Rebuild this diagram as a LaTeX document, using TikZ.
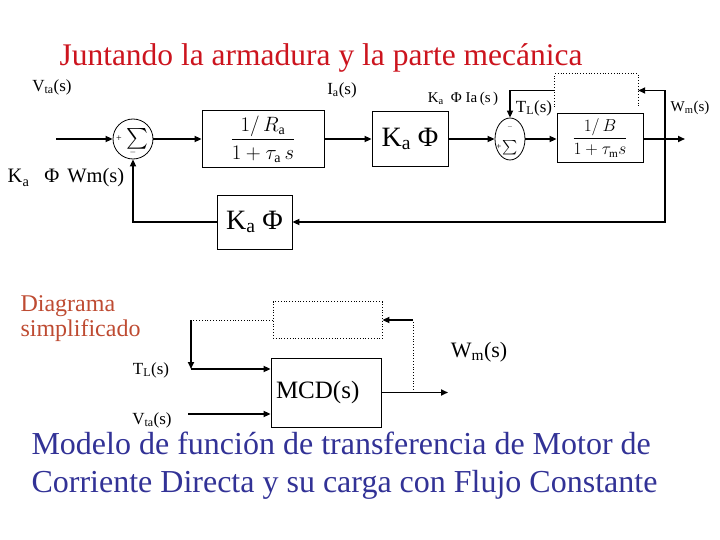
\documentclass[tikz,border=0pt]{standalone}
\usepackage{amsmath}
\usepackage{fontspec}
\setmainfont{Liberation Serif}
\usetikzlibrary{arrows.meta,positioning,shapes.geometric}
\definecolor{titlered}{RGB}{204,20,30}
\definecolor{notebrown}{RGB}{190,75,50}
\definecolor{capblue}{RGB}{50,50,150}

\begin{document}
\begin{tikzpicture}[
  x=1pt, y=-1pt, >={Triangle[length=7pt,width=6pt]},
  sig/.style={->, line width=1.6pt},
  blk/.style={draw, line width=0.8pt, inner sep=0pt},
  sumnode/.style={draw, ellipse, line width=0.8pt, inner sep=0pt},
  dotline/.style={dotted, line width=0.8pt},
  lbl/.style={font=\fontsize{17}{19}\selectfont},
]
\useasboundingbox (0,0) rectangle (720,540);

\node[font=\fontsize{31.5}{34}\selectfont, text=titlered] (title) at (321,58)
  {Juntando la armadura y la parte mecánica};

% armadura
\node[sumnode, minimum width=40pt, minimum height=40pt] (sumA) at (133,139) {};
\node[font=\fontsize{20}{20}\selectfont] (sigA) at (137,139) {$\sum$};
\node[font=\fontsize{10}{10}\selectfont] (plA) at (119,139) {+};
\node[font=\fontsize{8}{8}\selectfont] (miA) at (133,153) {$-$};
\node[blk, minimum width=122pt, minimum height=57pt,
      font=\fontsize{20}{22}\selectfont] (blkR) at (263,139)
  {$\dfrac{1/\,R_{\mathrm a}}{1+\tau_{\mathrm a}\,s}$};
\node[blk, minimum width=76pt, minimum height=55pt,
      font=\fontsize{28}{30}\selectfont] (blkK) at (410,139)
  {K\textsubscript{a}\hspace{7pt}Φ};
\node[blk, minimum width=75pt, minimum height=54pt,
      font=\fontsize{28}{30}\selectfont] (blkF) at (254.5,222)
  {K\textsubscript{a}\hspace{7pt}Φ};

% parte mecanica
\node[sumnode, minimum width=30pt, minimum height=42pt] (sumB) at (510,139) {};
\node[font=\fontsize{15}{15}\selectfont, inner sep=0pt] (sigB) at (510,148) {$\sum$};
\node[font=\fontsize{9}{9}\selectfont] (plB) at (499,147) {+};
\node[font=\fontsize{6}{6}\selectfont, inner sep=0pt] (miB) at (510,127) {$-$};
\node[blk, minimum width=86pt, minimum height=49pt,
      font=\fontsize{16}{18}\selectfont] (blkB) at (600,138)
  {$\dfrac{1/\,B}{1+\tau_{\mathrm m}s}$};
\node[minimum width=83pt, minimum height=33pt, inner sep=0pt] (tld) at (596.5,90.5) {};
\draw[dotline] (tld.south west) -- (tld.north west) -- (tld.north east)
  -- (tld.south east);

\coordinate (vin) at (56,139);
\coordinate (wout) at (685,139);
\coordinate (tapA) at (665,139);
\draw[sig] (vin) -- (sumA.west);
\draw[sig] (sumA.east) -- (blkR.west);
\draw[sig] (blkR.east) -- (blkK.west);
\draw[sig] (blkK.east) -- (sumB.west);
\draw[sig] (sumB.east) -- (sumB.east -| blkB.west);
\draw[sig] (sumB.east -| blkB.east) -- (wout);
\draw[sig] (tapA) |- (tld.east);
\draw[sig] (tapA) |- (blkF.east);
\draw[sig] (tld.west) -| (sumB.north);
\draw[sig] (blkF.west) -| (sumA.south);

\node[lbl] (vtaA) at (52,87) {V\textsubscript{ta}(s)};
\node[lbl] (iaA) at (342,90) {I\textsubscript{a}(s)};
\node[font=\fontsize{20.5}{22}\selectfont] (kwA) at (66,178)
  {K\textsubscript{a}\hspace{15pt}Φ\hspace{8pt}Wm(s)};
\node[font=\fontsize{15}{17}\selectfont] (kiA) at (463,99)
  {K\textsubscript{a}\hspace{7pt}Φ\ Ia\,(s\,)};
\node[lbl] (tlA) at (534,108) {T\textsubscript{L}(s)};
\node[font=\fontsize{15}{17}\selectfont] (wmA) at (690,108) {W\textsubscript{m}(s)};

% simplificado
\node[font=\fontsize{24}{25}\selectfont, text=notebrown, align=left, anchor=west]
  (simp) at (17,319) {Diagrama\\simplificado};
\node[draw, dotline, minimum width=109pt, minimum height=37pt] (tlb) at (327.5,320) {};
\node[blk, minimum width=110pt, minimum height=69pt, text width=100pt,
      align=left, inner xsep=5pt, font=\fontsize{25}{27}\selectfont] (mcd) at (326,392.5)
  {MCD(s)};

\coordinate (tlc) at (191,320);
\coordinate (tle) at (191,369);
\coordinate (vinB) at (188,414);
\coordinate (woutB) at (448,392.5);
\coordinate (tapB) at (413,392.5);
\coordinate (fbB) at (413,320);
\draw[dotline] (tlb.west) -- (tlc);
\draw[sig] (tlc) -- (tle);
\draw[sig] (tle) -- (tle -| mcd.west);
\draw[sig] (vinB) -- (vinB -| mcd.west);
\draw[sig] (mcd.east) -- (woutB);
\draw[dotline] (tapB) -- (fbB);
\draw[sig] (fbB) -- (tlb.east);

\node[lbl] (tlL) at (151,370) {T\textsubscript{L}(s)};
\node[lbl] (vtaL) at (152,420) {V\textsubscript{ta}(s)};
\node[font=\fontsize{22}{24}\selectfont] (wmL) at (479,352) {W\textsubscript{m}(s)};

\node[font=\fontsize{32}{38}\selectfont, text=capblue, align=left, anchor=north west]
  (cap) at (28,428)
  {Modelo de función de transferencia de Motor de\\Corriente Directa y su carga con Flujo Constante};
\end{tikzpicture}
\end{document}
